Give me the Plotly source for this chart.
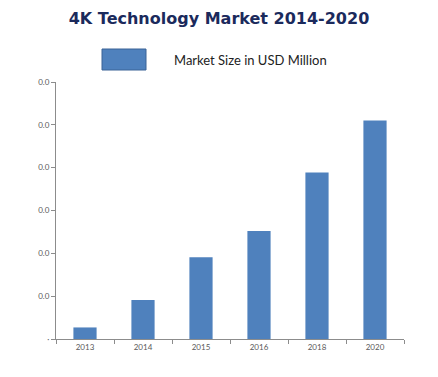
import plotly.graph_objects as go

years = ["2013", "2014", "2015", "2016", "2018", "2020"]
market_size = [0.27, 0.91, 1.91, 2.52, 3.89, 5.1]
y_tick_vals = [0, 1, 2, 3, 4, 5, 6]
y_tick_text = ["·", "0.0", "0.0", "0.0", "0.0", "0.0", "0.0"]
series_name = "Market Size in USD Million"
title_text = "4K Technology Market 2014-2020"

bar_color = "#4f81bd"
axis_color = "#8c8c8c"
label_color = "#595959"

# page body has an 8px offset; figure coords = screen coords - 8
OFF = 8
W, H = 438, 377
L, R, T, B = 56 - OFF, 404 - OFF, 82 - OFF, 339 - OFF
pw, ph = R - L, B - T

def px(x):
    return (x - OFF - L) / pw

def py(y):
    return (B - (y - OFF)) / ph

fig = go.Figure()
fig.add_trace(go.Bar(
    x=years, y=market_size, name=series_name,
    marker=dict(color=bar_color, line=dict(width=0)),
    width=0.4, showlegend=False,
))

fig.update_layout(
    width=W, height=H,
    margin=dict(l=L, r=W - R, t=T, b=H - B),
    paper_bgcolor="white", plot_bgcolor="white",
    title=dict(text="<b>" + title_text + "</b>", x=(219 - OFF) / W, xanchor="center",
               y=1 - (18 - OFF) / H, yanchor="middle",
               font=dict(family="DejaVu Sans", size=16, color="#1b2a5c")),
    xaxis=dict(showline=True, linecolor=axis_color, linewidth=1,
               ticks="outside", tickson="boundaries", ticklen=4, tickcolor=axis_color,
               tickfont=dict(family="Lato", size=8, color=label_color),
               showgrid=False, zeroline=False),
    yaxis=dict(range=[0, 6], showline=True, linecolor=axis_color, linewidth=1,
               tickvals=y_tick_vals, ticktext=y_tick_text,
               ticks="outside", ticklen=4, tickcolor=axis_color,
               tickfont=dict(family="Lato", size=8, color=label_color),
               showgrid=False, zeroline=False),
    shapes=[dict(type="rect", xref="paper", yref="paper",
                 x0=px(102), x1=px(146), y0=py(70), y1=py(49),
                 fillcolor=bar_color, line=dict(color="#3a6396", width=1))],
    annotations=[dict(text=series_name, xref="paper", yref="paper",
                      x=px(172), y=py(60), xanchor="left", yanchor="middle",
                      showarrow=False,
                      font=dict(family="Lato", size=13, color="#222222"))],
)

fig.write_html("out.html")
